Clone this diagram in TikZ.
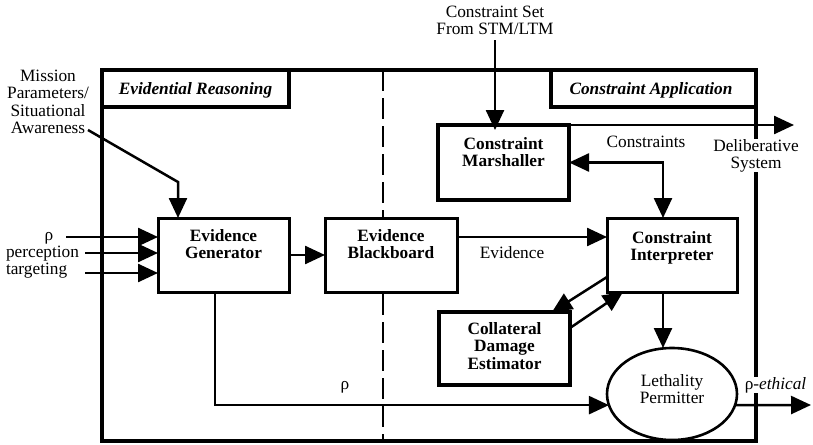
\documentclass[tikz,border=0pt]{standalone}
\usepackage{fontspec}
\setmainfont{Liberation Serif}
\usetikzlibrary{arrows.meta,shapes.geometric}
\begin{document}
\begin{tikzpicture}[x=1pt,y=-1pt,
  every node/.style={font=\fontsize{17.3}{17.5}\selectfont, inner sep=0pt, outer sep=0pt},
  frame/.style={line width=3.2pt},
  box/.style={draw, fill=white, line width=3pt, inner sep=0pt},
  heavybox/.style={box, line width=3.6pt},
  boxtxt/.style={font=\fontsize{17.3}{17.5}\selectfont\bfseries, align=center, anchor=north},
  plaintxt/.style={align=center},
  tag/.style={font=\fontsize{17.3}{17.5}\selectfont\bfseries\itshape},
  tip/.style={-{Triangle[length=20pt,width=18pt]}},
  conn/.style={line width=2.5pt, tip},
  biconn/.style={line width=2.5pt, {Triangle[length=20pt,width=18pt]}-{Triangle[length=20pt,width=18pt]}},
  blank/.style={fill=white}
]
\useasboundingbox (0,0) rectangle (813,444);

% outer frame and its two region tags
\draw[frame] (102,70) rectangle (756,441);
\node[draw, frame, minimum width=187pt, minimum height=37pt, anchor=north west] (ertag) at (102,70) {};
\node[tag] (ertxt) at (195.5,90) {Evidential Reasoning};
\node[draw, frame, minimum width=205pt, minimum height=37pt, anchor=north west] (catag) at (551,70) {};
\node[tag] (catxt) at (651,90) {Constraint Application};

% separator between the two regions
\coordinate (septop) at (383,70);
\coordinate (sepbot) at (383,441);
\draw[line width=2.5pt, dash pattern=on 21pt off 7pt] (septop) -- (sepbot);

% processing boxes
\node[box, minimum width=131pt, minimum height=74pt] (gen) at (223.5,255) {};
\node[boxtxt] (gentxt) at ([yshift=-11pt]gen.north) {Evidence\\Generator};

\node[box, minimum width=132pt, minimum height=74pt] (bb) at (391,255) {};
\node[boxtxt] (bbtxt) at ([yshift=-11pt]bb.north) {Evidence\\Blackboard};

\node[heavybox, minimum width=131pt, minimum height=75pt] (marsh) at (503.5,162.5) {};
\node[boxtxt] (marshtxt) at ([yshift=-12pt]marsh.north) {Constraint\\Marshaller};

\node[box, minimum width=130pt, minimum height=74pt] (interp) at (672,255) {};
\node[boxtxt] (interptxt) at ([yshift=-13pt]interp.north) {Constraint\\Interpreter};

\node[heavybox, minimum width=131pt, minimum height=73pt] (coll) at (504.5,348.5) {};
\node[boxtxt] (colltxt) at ([yshift=-10pt]coll.north) {Collateral\\Damage\\Estimator};

\node[draw, ellipse, line width=2.6pt, minimum width=130pt, minimum height=92pt] (perm) at (672,394) {};
\node[plaintxt, anchor=north] (permtxt) at (672,374) {Lethality\\Permitter};

% outside inputs
\node[plaintxt, anchor=north] (cs) at (495,6) {Constraint Set\\From STM/LTM};
\node[plaintxt, anchor=north] (mission) at (48,70) {Mission\\Parameters/\\Situational\\Awareness};
\node[anchor=base] (rhoin) at (49,240) {ρ};
\node[anchor=base west] (perc) at (6,257) {perception};
\node[anchor=base west] (targ) at (6,274) {targeting};

\coordinate (rhostart) at (66,237);
\coordinate (percstart) at (85,253);
\coordinate (targstart) at (85,273);
\coordinate (mpstart) at (88,130);
\coordinate (mpbend) at (178,182);
\coordinate (delib) at (794,125);
\coordinate (outend) at (811,405);

% connectors
\draw[conn] (rhostart) -- ([yshift=18pt]gen.west);
\draw[conn] (percstart) -- ([yshift=2pt]gen.west);
\draw[conn] (targstart) -- ([yshift=-18pt]gen.west);
\draw[conn] (mpstart) -- (mpbend) -- (mpbend |- gen.north);

\draw[conn] ([yshift=-5pt]cs.south) -- ([yshift=-5pt]cs.south |- marsh.north);
\draw[conn] (marsh.north east) -- (delib);
\draw[biconn] (marsh.east) -| ([xshift=-9pt]interp.north);

\draw[conn] (gen) -- (bb);
\draw[conn] ([yshift=18pt]bb.east) -- ([yshift=18pt]interp.west);
\draw[conn] ([yshift=-22pt]interp.west) -- ([xshift=47.5pt]coll.north);
\draw[conn] ([yshift=20.5pt]coll.east) -- ([xshift=16pt]interp.south west);
\draw[conn] ([xshift=-9pt]interp.south) -- ([xshift=-9pt]interp.south |- perm.north);
\draw[conn] ([xshift=-8.5pt]gen.south) |- (perm.190);
\draw[conn] (perm.350) -- (outend);

% connector labels
\node[anchor=base] (evlbl) at (512,258) {Evidence};
\node[anchor=base] (cnlbl) at (646,147) {Constraints};
\node[anchor=base] (rholbl) at (345,389) {ρ};
\node[plaintxt, blank, anchor=north] (delibtxt) at (756,139) {Deliberative\\System};
\node[blank, anchor=base] (ethtxt) at (775.5,389) {ρ-\textit{ethical}};
\end{tikzpicture}
\end{document}
